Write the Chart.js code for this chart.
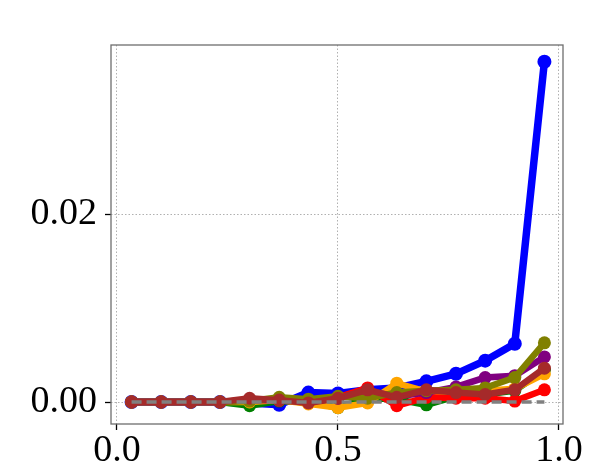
<!DOCTYPE html>
<html>
<head>
<meta charset="utf-8">
<script src="https://cdn.jsdelivr.net/npm/chart.js@4/dist/chart.umd.min.js"></script>
<style>
  html, body { margin: 0; padding: 0; background: #fff; }
  #wrap { width: 598px; height: 467px; }
</style>
</head>
<body>
<div id="wrap"><canvas id="line-chart" width="598" height="467"></canvas></div>
<script>
  // x positions of the points
  const xs = [0.033, 0.1, 0.167, 0.233, 0.3, 0.367, 0.433, 0.5, 0.567, 0.633, 0.7, 0.767, 0.833, 0.9, 0.967];

  const blue   = [0, 0, 0, 0, -0.0001, -0.0003, 0.001, 0.0009, 0.0013, 0.0015, 0.0022, 0.003, 0.0044, 0.0062, 0.0362];
  const olive  = [0, 0, 0, 0, 0.0001, 0.0005, 0.0003, 0.0006, 0.0004, 0.001, 0.0012, 0.0013, 0.0015, 0.0026, 0.0063];
  const purple = [0, 0, 0, 0, 0.0002, 0.0002, 0, 0.0004, 0.0012, 0.0006, 0.001, 0.0016, 0.0026, 0.0028, 0.0048];
  const orange = [0, 0, 0, 0, 0, 0.0002, -0.0002, -0.0006, -0.0001, 0.002, 0.0011, 0.001, 0.0012, 0.0014, 0.003];
  const red    = [0, 0, 0, 0, 0.0002, 0.0002, 0.0001, 0.0005, 0.0015, -0.0004, 0.0005, 0.0004, 0.0004, 0.0001, 0.0013];
  const green  = [0, 0, 0, 0, -0.0004, 0.0001, 0, -0.0006, 0.0004, 0.0003, -0.0003, 0.0006, 0.0008, 0.0012, 0.0034];
  const brown  = [0, 0, 0, 0, 0.0004, 0.0002, -0.0001, 0.0004, 0.0013, 0.0005, 0.0013, 0.001, 0.0008, 0.0013, 0.0036];
  const baseline = [0, 0, 0, 0, 0, 0, 0, 0, 0, 0, 0, 0, 0, 0, 0];

  const xTicks = [0, 0.5, 1.0];
  const yTicks = [0, 0.02];

  const pts = ys => ys.map((y, i) => ({ x: xs[i], y: y }));

  const series = (data, color, width = 6.5, radius = 6.5) => ({
    data: pts(data),
    borderColor: color,
    backgroundColor: color,
    borderWidth: width,
    pointRadius: radius,
    pointBorderWidth: 0,
    pointBackgroundColor: color
  });

  // first dataset is drawn on top
  const datasets = [
    Object.assign(series(baseline, '#808080', 3.5, 0), { borderDash: [10, 5] }),
    series(brown, '#a52a2a'),
    series(olive, '#808000'),
    series(purple, '#800080'),
    series(red, '#ff0000'),
    series(orange, '#ffa500'),
    series(green, '#008000'),
    series(blue, '#0000ff', 7.5, 7)
  ];

  const frame = {
    id: 'frame',
    afterDatasetsDraw(c) {
      const a = c.chartArea, ctx = c.ctx;
      ctx.save();
      ctx.strokeStyle = '#6e6e6e';
      ctx.lineWidth = 1.3;
      ctx.strokeRect(a.left, a.top, a.right - a.left, a.bottom - a.top);
      ctx.restore();
    }
  };

  const font = { family: '"Liberation Serif", "Times New Roman", serif', size: 38 };

  new Chart(document.getElementById('line-chart').getContext('2d'), {
    type: 'line',
    data: { datasets: datasets },
    options: {
      responsive: false,
      animation: false,
      devicePixelRatio: 1,
      layout: { padding: { top: 45, right: 35, left: 0, bottom: 0 } },
      plugins: { legend: { display: false }, tooltip: { enabled: false } },
      elements: { line: { tension: 0 } },
      scales: {
        x: {
          type: 'linear',
          min: -0.01357,
          max: 1.00905,
          afterBuildTicks: s => { s.ticks = xTicks.map(v => ({ value: v })); },
          afterFit: s => { s.height = 43; },
          ticks: {
            font: font, color: '#000', padding: -2, maxRotation: 0,
            callback: v => v.toFixed(1)
          },
          grid: { color: '#b0b0b0', lineWidth: 1, tickColor: '#000', tickLength: 6, tickWidth: 1.3 },
          border: { display: false, dash: [1.5, 2] }
        },
        y: {
          type: 'linear',
          min: -0.00234,
          max: 0.03798,
          afterBuildTicks: s => { s.ticks = yTicks.map(v => ({ value: v })); },
          afterFit: s => { s.width = 111; },
          ticks: {
            font: font, color: '#000', padding: 8,
            callback: v => v.toFixed(2)
          },
          grid: { color: '#b0b0b0', lineWidth: 1, tickColor: '#000', tickLength: 6, tickWidth: 1.3 },
          border: { display: false, dash: [1.5, 2] }
        }
      }
    },
    plugins: [frame]
  });
</script>
</body>
</html>
